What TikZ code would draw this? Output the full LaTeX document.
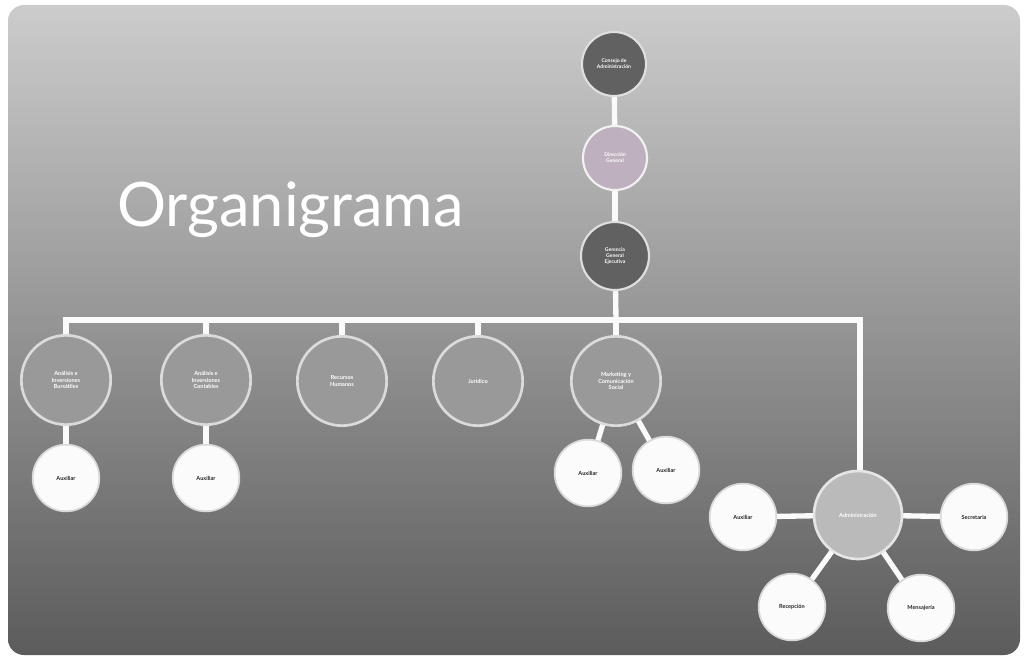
\documentclass[tikz,border=0pt]{standalone}
\usepackage{fontspec}
\setmainfont{Lato}
\begin{document}
\begin{tikzpicture}[x=0.75pt,y=-0.75pt,
  link/.style={draw=white!96!gray, line width=4pt},
  topdark/.style={circle, minimum size=48pt, fill=black!62, draw=white!75!gray, line width=1.6pt, text=white, font=\fontsize{3.8}{4.4}\selectfont\bfseries, align=center, inner sep=0pt},
  toppink/.style={circle, minimum size=48pt, fill=white!82!violet!60!gray, draw=white!90!gray, line width=1.6pt, text=white, font=\fontsize{3.8}{4.4}\selectfont\bfseries, align=center, inner sep=0pt},
  dept/.style={circle, minimum size=67pt, fill=black!40, draw=white!72!gray, line width=2pt, text=white, font=\fontsize{4.2}{5}\selectfont\bfseries, align=center, inner sep=0pt},
  admin/.style={circle, minimum size=66pt, fill=black!27, draw=white!80!gray, line width=2pt, text=white, font=\fontsize{4.2}{5}\selectfont\bfseries, align=center, inner sep=0pt},
  aux/.style={circle, minimum size=50pt, fill=white!97!gray, draw=black!15, line width=1.3pt, text=black!85, font=\fontsize{4.2}{5}\selectfont\bfseries, align=center, inner sep=0pt}]
\useasboundingbox (0,0) rectangle (1024,659);
\fill[white] (0,0) rectangle (1024,659);
\shade[rounded corners=12pt, top color=black!20, middle color=black!50, bottom color=black!64] (8,5) rectangle (1020,655);
\node[text=white, font=\fontsize{46}{52}\selectfont, anchor=west, inner sep=0pt] (title) at (117,210) {Organigrama};
% coordinates for bus
\coordinate (b1) at (66,320);
\coordinate (b2) at (206,320);
\coordinate (b3) at (342,320);
\coordinate (b4) at (478,320);
\coordinate (b5) at (616,320);
\coordinate (b6) at (860,320);
% node centres
\coordinate (c1) at (614,64);
\coordinate (c2) at (615,158);
\coordinate (c3) at (615,256);
\coordinate (cr1) at (66,380);
\coordinate (cr2) at (206,380);
\coordinate (cr3) at (342,381);
\coordinate (cr4) at (478,381);
\coordinate (cr5) at (616,381);
\coordinate (cad) at (858,515);
\coordinate (ca1) at (66,478);
\coordinate (ca2) at (206,478);
\coordinate (ca3) at (588,473);
\coordinate (ca4) at (666,470);
\coordinate (cs1) at (743,517);
\coordinate (cs2) at (974,517);
\coordinate (cs3) at (792,607);
\coordinate (cs4) at (921,608);
% connectors first
\draw[link] (c1) -- (c2);
\draw[link] (c2) -- (c3);
\draw[link] (c3) -- (b5);
\draw[link, line cap=rect] (b1) -- (b6);
\draw[link] (b1) -- (cr1);
\draw[link] (b2) -- (cr2);
\draw[link] (b3) -- (cr3);
\draw[link] (b4) -- (cr4);
\draw[link] (b5) -- (cr5);
\draw[link] (b6) -- (b6 |- cad);
\draw[link] (cr1) -- (ca1);
\draw[link] (cr2) -- (ca2);
\draw[link] (cr5) -- (ca3);
\draw[link] (cr5) -- (ca4);
\draw[link] (cad) -- (cs1);
\draw[link] (cad) -- (cs2);
\draw[link] (cad) -- (cs3);
\draw[link] (cad) -- (cs4);
% nodes on top
\node[topdark] (n1) at (c1) {Consejo de\\Administración};
\node[toppink] (n2) at (c2) {Dirección\\General};
\node[topdark, minimum size=51pt] (n3) at (c3) {Gerencia\\General\\Ejecutiva};
\node[dept] (r1) at (cr1) {Análisis e\\Inversiones\\Bursátiles};
\node[dept] (r2) at (cr2) {Análisis e\\Inversiones\\Contables};
\node[dept] (r3) at (cr3) {Recursos\\Humanos};
\node[dept] (r4) at (cr4) {Jurídico};
\node[dept] (r5) at (cr5) {Marketing y\\Comunicación\\Social};
\node[admin] (ad) at (cad) {Administración};
\node[aux] (a1) at (ca1) {Auxiliar};
\node[aux] (a2) at (ca2) {Auxiliar};
\node[aux] (a3) at (ca3) {Auxiliar};
\node[aux] (a4) at (ca4) {Auxiliar};
\node[aux] (s1) at (cs1) {Auxiliar};
\node[aux] (s2) at (cs2) {Secretaria};
\node[aux] (s3) at (cs3) {Recepción};
\node[aux] (s4) at (cs4) {Mensajería};
\end{tikzpicture}
\end{document}
